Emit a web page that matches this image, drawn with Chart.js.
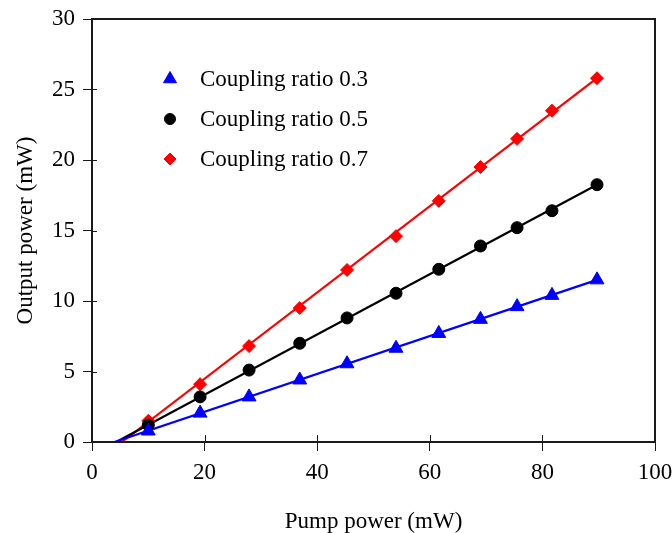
<!DOCTYPE html>
<html>
<head>
<meta charset="utf-8">
<script src="https://cdn.jsdelivr.net/npm/chart.js@4"></script>
<style>
  html, body { margin: 0; padding: 0; background: #fff; }
  #wrap { width: 672px; height: 533px; }
</style>
</head>
<body>
<div id="wrap"><canvas id="chart" width="672" height="533"></canvas></div>
<script>
// Pump power (mW) dei punti misurati
const pump = [10, 19.2, 27.9, 36.9, 45.3, 54, 61.6, 69, 75.5, 81.7, 89.7];
// Output power (mW) per ogni coupling ratio
const out03 = [0.78, 2.05, 3.2, 4.4, 5.55, 6.65, 7.7, 8.7, 9.6, 10.4, 11.5];
const out05 = [1.2, 3.2, 5.1, 7.0, 8.8, 10.55, 12.25, 13.9, 15.2, 16.4, 18.25];
const out07 = [1.5, 4.1, 6.8, 9.5, 12.2, 14.6, 17.1, 19.5, 21.5, 23.5, 25.8];
// Estremi delle rette di fit (x, y)
const fit03 = [[4.0, 0], [89.7, 11.5]];
const fit05 = [[4.3, 0], [89.7, 18.25]];
const fit07 = [[5.3, 0], [89.7, 25.8]];
const labels = ['Coupling ratio 0.3', 'Coupling ratio 0.5', 'Coupling ratio 0.7'];
const xTicks = [0, 20, 40, 60, 80, 100];
const yTicks = [0, 5, 10, 15, 20, 25, 30];

const FONT = 'Liberation Serif, Times New Roman, serif';
const FS = 23;
const toXY = (xs, ys) => xs.map((x, i) => ({ x: x, y: ys[i] }));
const pairs = arr => arr.map(p => ({ x: p[0], y: p[1] }));

const colors = ['#0000ff', '#000000', '#ff0000'];
const styles = ['triangle', 'circle', 'rectRot'];
const radii = [8, 6, 6.5];

// Box, tick interni e legenda dentro il grafico
const boxPlugin = {
    id: 'boxPlugin',
    afterDraw(chart) {
        const ctx = chart.ctx;
        const a = chart.chartArea;
        const sx = chart.scales.x, sy = chart.scales.y;
        ctx.save();
        ctx.strokeStyle = '#1a1a1a';
        ctx.lineWidth = 2;
        ctx.strokeRect(a.left, a.top, a.right - a.left, a.bottom - a.top);
        ctx.lineWidth = 1;
        ctx.beginPath();
        xTicks.forEach(v => {
            const px = Math.round(sx.getPixelForValue(v)) + 0.5;
            ctx.moveTo(px, a.bottom);
            ctx.lineTo(px, a.bottom - 7);
        });
        yTicks.forEach(v => {
            const py = Math.round(sy.getPixelForValue(v)) + 0.5;
            ctx.moveTo(a.left, py);
            ctx.lineTo(a.left + 5, py);
        });
        ctx.stroke();

        // legenda
        ctx.font = FS + 'px ' + FONT;
        ctx.textBaseline = 'middle';
        labels.forEach((lab, i) => {
            const y = a.top + 60 + i * 40;
            ctx.fillStyle = colors[i];
            ctx.strokeStyle = colors[i];
            Chart.helpers.drawPoint(ctx, { pointStyle: styles[i], radius: radii[i] - 0.5, rotation: 0, borderWidth: 1 }, a.left + 78, y);
            ctx.fillStyle = '#000';
            ctx.fillText(lab, a.left + 108, y + 1);
        });
        ctx.restore();
    }
};

const markerSets = [out03, out05, out07].map((ys, i) => ({
    label: labels[i],
    data: toXY(pump, ys),
    showLine: false,
    pointStyle: styles[i],
    pointRadius: radii[i],
    pointBackgroundColor: colors[i],
    pointBorderColor: colors[i],
    pointBorderWidth: 1
}));
const fitSets = [fit03, fit05, fit07].map((f, i) => ({
    label: 'fit ' + labels[i],
    data: pairs(f),
    showLine: true,
    pointRadius: 0,
    borderColor: colors[i],
    borderWidth: 2.2
}));

const config = {
    type: 'scatter',
    data: { datasets: markerSets.concat(fitSets) },
    options: {
        responsive: false,
        animation: false,
        layout: { padding: { top: 19, right: 17, left: 0, bottom: 0 } },
        plugins: {
            legend: { display: false },
            tooltip: { enabled: false }
        },
        scales: {
            x: {
                type: 'linear',
                min: 0, max: 100,
                afterBuildTicks: s => { s.ticks = xTicks.map(v => ({ value: v })); },
                afterFit: s => { s.height = 91; s.paddingRight = 0; s.paddingLeft = 0; },
                ticks: { color: '#000', font: { family: FONT, size: FS }, padding: 8, maxRotation: 0 },
                grid: { drawOnChartArea: false, tickLength: 9, color: '#1a1a1a', lineWidth: 1 },
                border: { display: true, color: '#1a1a1a', width: 2 },
                title: { display: true, text: 'Pump power (mW)', color: '#000', font: { family: FONT, size: FS }, padding: { top: 10, bottom: -3 } }
            },
            y: {
                type: 'linear',
                min: 0, max: 30,
                afterBuildTicks: s => { s.ticks = yTicks.map(v => ({ value: v })); },
                afterFit: s => { s.width = 92; s.paddingTop = 0; s.paddingBottom = 0; },
                ticks: { color: '#000', font: { family: FONT, size: FS }, padding: 8 },
                grid: { drawOnChartArea: false, tickLength: 9, color: '#1a1a1a', lineWidth: 1 },
                border: { display: true, color: '#1a1a1a', width: 2 },
                title: { display: true, text: 'Output power (mW)', color: '#000', font: { family: FONT, size: FS }, padding: { top: 12, bottom: 0 } }
            }
        }
    },
    plugins: [boxPlugin]
};

const myChart = new Chart(document.getElementById('chart'), config);
</script>
</body>
</html>
